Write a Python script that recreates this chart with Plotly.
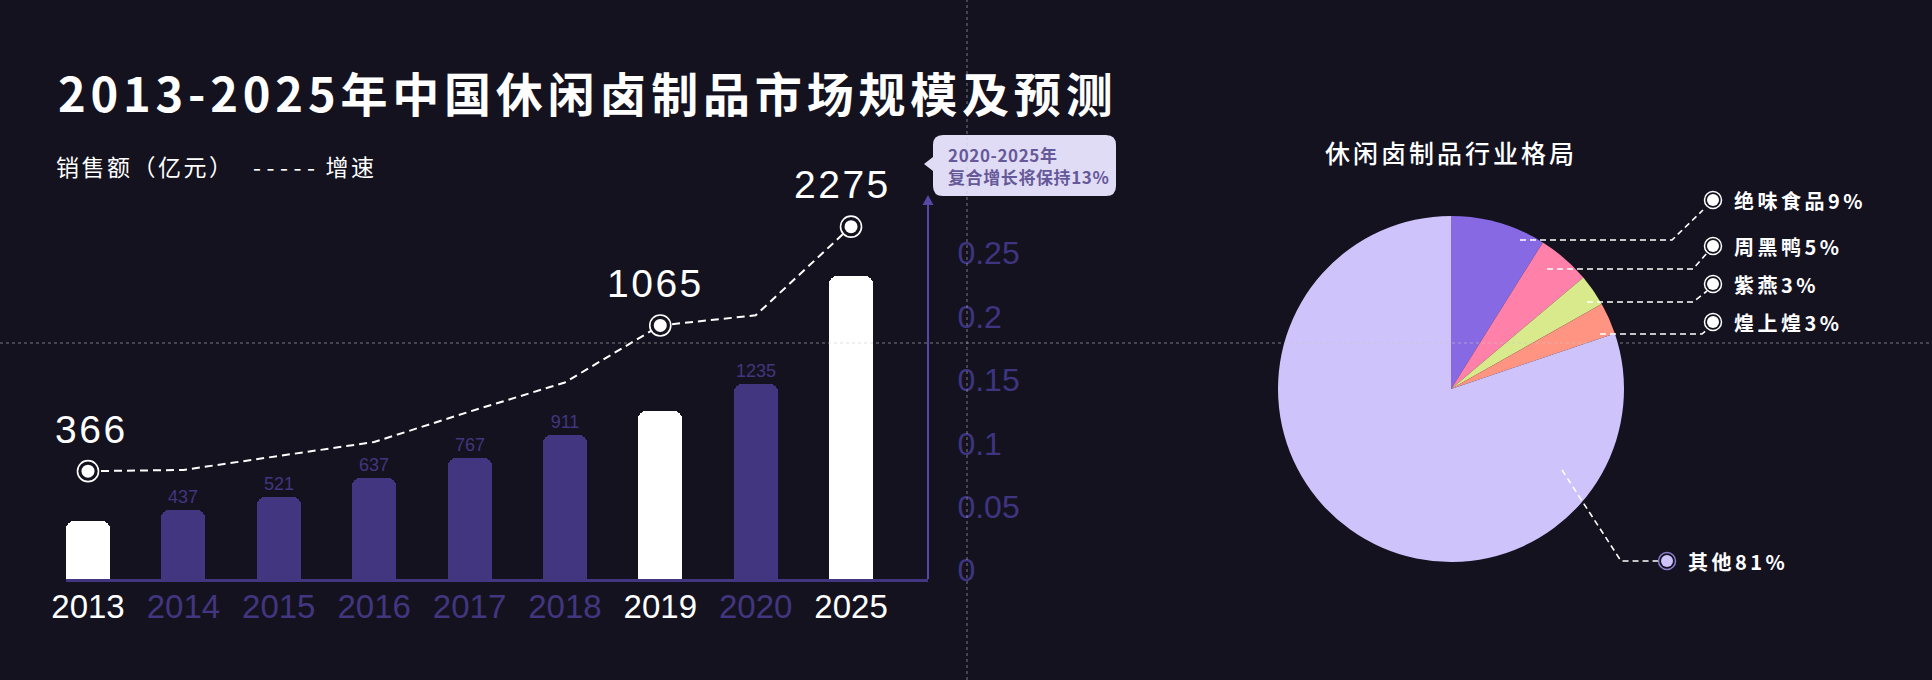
import plotly.graph_objects as go

W, H = 1932, 680
BG = '#15121f'
PURPLE = '#41367f'
AXIS_PURPLE = '#5546a8'
TICK_PURPLE = '#3e3581'
WHITE = '#ffffff'
CJK = 'Noto Sans CJK SC'
LAT = 'Liberation Sans'

# ---------------- data ----------------
years = ['2013', '2014', '2015', '2016', '2017', '2018', '2019', '2020', '2025']
sales = [366, 437, 521, 637, 767, 911, 1065, 1235, 2275]          # 销售额(亿元) labels
bar_drawn = [366, 437, 521, 637, 767, 911, 1065, 1235, 1918]      # bar heights as drawn in the reference
growth = [0.078, 0.079, 0.090, 0.101, 0.125, 0.148, 0.193, 0.201, 0.271]  # 增速
highlight_years = ['2013', '2019', '2025']
growth_ticks = [0, 0.05, 0.1, 0.15, 0.2, 0.25]
growth_ticktext = ['0', '0.05', '0.1', '0.15', '0.2', '0.25']

brands = ['绝味食品', '周黑鸭', '紫燕', '煌上煌', '其他']
shares = [9, 5, 3, 3, 81]
brand_colors = ['#8769e3', '#ff80a8', '#d8ea8b', '#ff9482', '#cec3fb']


def X(px):
    return px / W


def Y(py):
    return 1 - py / H


def ls(text, s):
    return f'<span style="letter-spacing:{s}px">{text}</span>'


fig = go.Figure()

# bars
bar_colors = [WHITE if y in highlight_years else PURPLE for y in years]
bar_text = ['' if y in highlight_years else str(v) for y, v in zip(years, sales)]
fig.add_trace(go.Bar(
    x=years, y=bar_drawn, width=0.4613,
    marker=dict(color=bar_colors, line=dict(width=0), cornerradius=8),
    text=bar_text, textposition='outside', constraintext='none', cliponaxis=False,
    textfont=dict(family=LAT, size=18, color=PURPLE),
    hoverinfo='skip', showlegend=False,
))

# growth line
fig.add_trace(go.Scatter(
    x=years, y=growth, yaxis='y2', mode='lines',
    line=dict(color=WHITE, width=2, dash='8px,5px'),
    hoverinfo='skip', showlegend=False,
))
hl_idx = [i for i, y in enumerate(years) if y in highlight_years]
hl_g = [growth[i] for i in hl_idx]
fig.add_trace(go.Scatter(
    x=highlight_years, y=hl_g, yaxis='y2', mode='markers',
    marker=dict(symbol='circle', size=21, color=BG, line=dict(color=WHITE, width=1.6)),
    hoverinfo='skip', showlegend=False, cliponaxis=False,
))
fig.add_trace(go.Scatter(
    x=highlight_years, y=hl_g, yaxis='y2', mode='markers',
    marker=dict(symbol='circle', size=13, color=WHITE, line=dict(width=0)),
    hoverinfo='skip', showlegend=False, cliponaxis=False,
))

# pie
fig.add_trace(go.Pie(
    values=shares, labels=brands, sort=False, direction='clockwise', rotation=0,
    marker=dict(colors=brand_colors, line=dict(width=0)),
    textinfo='none', hoverinfo='skip', showlegend=False, automargin=False,
    domain=dict(x=[X(1278), X(1624)], y=[Y(562), Y(216)]),
))

annotations = []
shapes = []

# big labels on highlighted points
label_xshift = {0: 3, 6: -5, 8: -9}
for i in hl_idx:
    annotations.append(dict(
        x=i, y=growth[i], xref='x', yref='y2', yshift=42, xshift=label_xshift[i],
        showarrow=False, xanchor='center', yanchor='middle',
        text=ls(str(sales[i]), 2.5),
        font=dict(family=LAT, size=39, color=WHITE),
    ))

# title & legend
annotations.append(dict(
    x=X(56), y=Y(92), xref='paper', yref='paper', xanchor='left', yanchor='middle',
    showarrow=False, text=ls('2013-2025年中国休闲卤制品市场规模及预测', 4.8),
    font=dict(family=CJK, size=47, color=WHITE, weight='bold'),
))
annotations.append(dict(
    x=X(54), y=Y(166), xref='paper', yref='paper', xanchor='left', yanchor='middle',
    showarrow=False, text=ls('销售额（亿元）', 2.5),
    font=dict(family=CJK, size=23, color=WHITE),
))
annotations.append(dict(
    x=X(251), y=Y(166), xref='paper', yref='paper', xanchor='left', yanchor='middle',
    showarrow=False, text=ls('-----', 5.5) + ' ' + ls('增速', 2.5),
    font=dict(family=CJK, size=23, color=WHITE),
))

# callout box
x0, x1, y0, y1, r = 933, 1116, 135, 196, 10
pts = (f'M {X(x0 + r)},{Y(y0)} L {X(x1 - r)},{Y(y0)} Q {X(x1)},{Y(y0)} {X(x1)},{Y(y0 + r)} '
       f'L {X(x1)},{Y(y1 - r)} Q {X(x1)},{Y(y1)} {X(x1 - r)},{Y(y1)} '
       f'L {X(x0 + r)},{Y(y1)} Q {X(x0)},{Y(y1)} {X(x0)},{Y(y1 - r)} '
       f'L {X(x0)},{Y(171)} L {X(924)},{Y(164)} L {X(x0)},{Y(157)} '
       f'L {X(x0)},{Y(y0 + r)} Q {X(x0)},{Y(y0)} {X(x0 + r)},{Y(y0)} Z')
shapes.append(dict(type='path', path=pts, xref='paper', yref='paper',
                   fillcolor='#e1dcf5', line=dict(width=0), layer='above'))
annotations.append(dict(
    x=X(946), y=Y(165), xref='paper', yref='paper', xanchor='left', yanchor='middle',
    showarrow=False, align='left',
    text=ls('2020-2025年', 0.6) + '<br>' + ls('复合增长将保持13%', 0.6),
    font=dict(family=CJK, size=17, color='#66599a', weight='bold'),
))

# arrow head on right axis
shapes.append(dict(type='path', xref='paper', yref='paper',
                   path=f'M {X(928)},{Y(195)} L {X(922.5)},{Y(205)} L {X(933.5)},{Y(205)} Z',
                   fillcolor=AXIS_PURPLE, line=dict(width=0), layer='above'))

# pie title
annotations.append(dict(
    x=X(1451), y=Y(152), xref='paper', yref='paper', xanchor='center', yanchor='middle',
    showarrow=False, text=ls('休闲卤制品行业格局', 3),
    font=dict(family=CJK, size=25, color=WHITE, weight=500),
))

# pie labels with leader lines
label_pos = [(1713, 200), (1713, 246), (1713, 284), (1713, 322), (1667, 561)]
leaders = [
    [(1520, 240), (1672, 240), (1703, 210)],
    [(1547, 269), (1693, 269), (1707, 253)],
    [(1587, 302), (1693, 302), (1707, 291)],
    [(1600, 334), (1702, 334), (1708, 329)],
    [(1562, 470), (1621, 561), (1658, 561)],
]
for i, (name, share) in enumerate(zip(brands, shares)):
    lx, ly = label_pos[i]
    pts = leaders[i]
    path = 'M ' + ' L '.join(f'{X(a)},{Y(b)}' for a, b in pts)
    shapes.append(dict(type='path', path=path, xref='paper', yref='paper',
                       line=dict(color=WHITE, width=1.6, dash='6px,4px'), layer='above'))
    ring = '#8b7fd0' if i == 4 else WHITE
    fill = brand_colors[4] if i == 4 else WHITE
    shapes.append(dict(type='circle', xref='paper', yref='paper',
                       x0=X(lx - 8.5), x1=X(lx + 8.5), y0=Y(ly + 8.5), y1=Y(ly - 8.5),
                       fillcolor=BG, line=dict(color=ring, width=1.5), layer='above'))
    shapes.append(dict(type='circle', xref='paper', yref='paper',
                       x0=X(lx - 6), x1=X(lx + 6), y0=Y(ly + 6), y1=Y(ly - 6),
                       fillcolor=fill, line=dict(width=0), layer='above'))
    annotations.append(dict(
        x=X(lx + 19), y=Y(ly), xref='paper', yref='paper', xanchor='left', yanchor='middle',
        showarrow=False, text=ls(f'{name}{share}%', 3.5),
        font=dict(family=CJK, size=20, color=WHITE, weight='bold'),
    ))

# crosshair guide lines seen in the reference
shapes.append(dict(type='line', xref='paper', yref='paper', x0=X(967), x1=X(967), y0=0, y1=1,
                   line=dict(color='rgba(200,200,200,0.55)', width=1, dash='dot'), layer='above'))
shapes.append(dict(type='line', xref='paper', yref='paper', x0=0, x1=1, y0=Y(343), y1=Y(343),
                   line=dict(color='rgba(200,200,200,0.55)', width=1, dash='dot'), layer='above'))

ticktext = [f'<span style="color:{WHITE if y in highlight_years else PURPLE}">{y}</span>' for y in years]

fig.update_layout(
    width=W, height=H,
    margin=dict(l=0, r=0, t=0, b=0, pad=0, autoexpand=False),
    paper_bgcolor=BG, plot_bgcolor=BG,
    bargap=0, showlegend=False,
    xaxis=dict(
        domain=[X(66), X(928)], type='category', range=[-0.2307, 8.807],
        tickvals=years, ticktext=ticktext, ticks='', showgrid=False, zeroline=False,
        showline=True, linecolor=PURPLE, linewidth=3, automargin=False,
        tickfont=dict(family=LAT, size=33, color=PURPLE), ticklabelstandoff=-4,
        fixedrange=True, anchor='y',
    ),
    yaxis=dict(
        domain=[Y(579), Y(198)], range=[0, 2411], visible=False, fixedrange=True,
        automargin=False,
    ),
    yaxis2=dict(
        overlaying='y', side='right', anchor='free', position=X(928),
        range=[-0.0071, 0.2936], tickvals=growth_ticks, ticktext=growth_ticktext,
        showgrid=False, zeroline=False, showline=True, linecolor=AXIS_PURPLE, linewidth=2,
        ticks='', tickfont=dict(family=LAT, size=32, color=TICK_PURPLE),
        ticklabelstandoff=22, fixedrange=True, automargin=False,
    ),
    annotations=annotations,
    shapes=shapes,
)

fig.write_html('out.html')
